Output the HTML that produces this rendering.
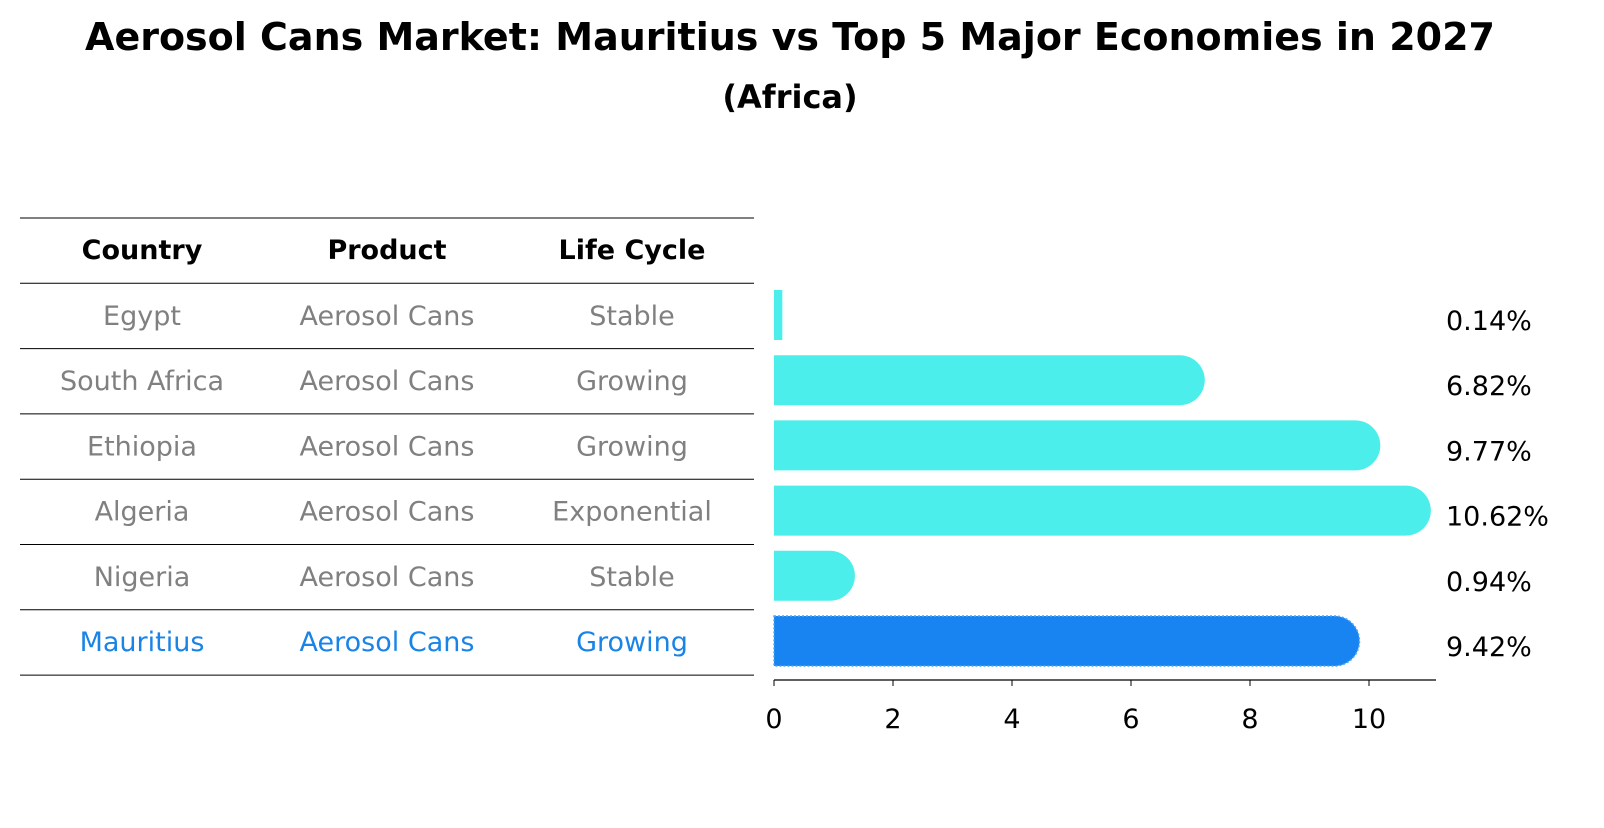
<!DOCTYPE html>
<html><head><meta charset="utf-8"><style>
body{margin:0;background:#fff;font-family:"Liberation Sans","DejaVu Sans",sans-serif;}
svg text{font-family:"DejaVu Sans","Liberation Sans",sans-serif;}
</style></head><body>
<svg id="c" width="1604" height="823" xmlns="http://www.w3.org/2000/svg">
<text x="790" y="50" text-anchor="middle" font-size="38" font-weight="bold">Aerosol Cans Market: Mauritius vs Top 5 Major Economies in 2027</text>
<text x="790" y="108" text-anchor="middle" font-size="32" font-weight="bold">(Africa)</text>
<g id="tbl"></g>
<g id="bars"></g>
<g id="axis"></g>
</svg>
<script>
const countries=["Egypt","South Africa","Ethiopia","Algeria","Nigeria","Mauritius"];
const products=["Aerosol Cans","Aerosol Cans","Aerosol Cans","Aerosol Cans","Aerosol Cans","Aerosol Cans"];
const lifeCycles=["Stable","Growing","Growing","Exponential","Stable","Growing"];
const values=[0.14,6.82,9.77,10.62,0.94,9.42];
const xTicks=[0,2,4,6,8,10];
const NS="http://www.w3.org/2000/svg";
function mk(t,a,p){const e=document.createElementNS(NS,t);for(const k in a)e.setAttribute(k,a[k]);p.appendChild(e);return e;}
const x0=774,ppu=59.5;const xs=v=>x0+v*ppu;
const rowY=i=>315+i*65.2;
const FS=27;
const tbl=document.getElementById('tbl'),bars=document.getElementById('bars'),axis=document.getElementById('axis');
const cols=[142,387,632];
for(let i=0;i<8;i++){const y=218+i*65.3;
const l=mk('line',{x1:20,x2:754,y1:y,y2:y,stroke:'#000','stroke-width':1},tbl);

}
["Country","Product","Life Cycle"].forEach((h,j)=>{const t=mk('text',{x:cols[j],y:259,'text-anchor':'middle','font-size':FS,'font-weight':'bold'},tbl);t.textContent=h;

});
countries.forEach((c,i)=>{const y=rowY(i)+10;const col=i===countries.length-1?'#1a84e6':'#808080';
[c,products[i],lifeCycles[i]].forEach((s,j)=>{const t=mk('text',{x:cols[j],y:y,'text-anchor':'middle','font-size':FS,fill:col},tbl);t.textContent=s;

});
const v=values[i],yc=rowY(i),h=50,w=v*ppu;const fill=i===countries.length-1?'#1884f2':'#4beeea';
let d;if(w>25){d=`M${x0},${yc-h/2}H${x0+w}A25,25 0 0 1 ${x0+w},${yc+h/2}H${x0}Z`;}else{d=`M${x0},${yc-h/2}H${x0+w}V${yc+h/2}H${x0}Z`;}
const b=mk('path',{d:d,fill:fill},bars);
if(i===countries.length-1){b.setAttribute('stroke','#4aa8f8');b.setAttribute('stroke-dasharray','2 2');b.setAttribute('stroke-width','1.5');}


const t=mk('text',{x:1446,y:yc+15,'font-size':FS},bars);t.textContent=v.toFixed(2)+'%';

});
mk('line',{x1:x0,x2:1436,y1:680,y2:680,stroke:'#000','stroke-width':1.2},axis);
xTicks.forEach(v=>{mk('line',{x1:xs(v),x2:xs(v),y1:680,y2:686,stroke:'#000'},axis);
const t=mk('text',{x:xs(v),y:728,'text-anchor':'middle','font-size':FS},axis);t.textContent=v;

});
</script>
</body></html>
